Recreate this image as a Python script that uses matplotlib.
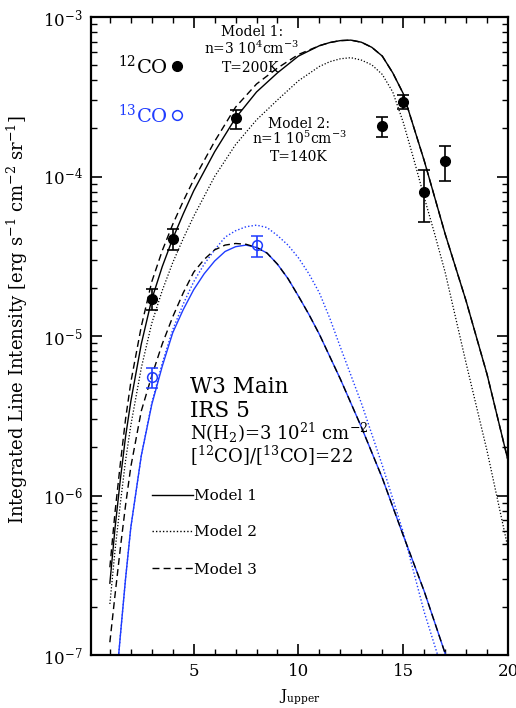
import matplotlib
matplotlib.use('Agg')
import matplotlib.pyplot as plt
import numpy as np
from matplotlib.ticker import MultipleLocator, LogLocator, FixedLocator, FuncFormatter, NullFormatter
from matplotlib.lines import Line2D

plt.rcParams['font.family'] = ['DejaVu Serif']
plt.rcParams['mathtext.fontset'] = 'dejavuserif'

BLUE = '#1f3cff'

# ---------------- data ----------------
# 12CO observations
J12 = [3, 4, 7, 14, 15, 16, 17]
v12 = [1.71e-5, 4.04e-5, 2.32e-4, 2.07e-4, 2.93e-4, 8.03e-5, 1.25e-4]
lo12 = [1.46e-5, 3.46e-5, 1.98e-4, 1.78e-4, 2.65e-4, 5.21e-5, 9.38e-5]
hi12 = [1.96e-5, 4.69e-5, 2.61e-4, 2.37e-4, 3.23e-4, 1.10e-4, 1.55e-4]

# 13CO observations
J13 = [3, 8]
v13 = [5.56e-6, 3.72e-5]
lo13 = [4.70e-6, 3.14e-5]
hi13 = [6.33e-6, 4.26e-5]

# model curves for 12CO (log10 of intensity)
jm12 = [1, 1.25, 1.5, 1.75, 2, 2.5, 3, 3.5, 4, 4.5, 5, 6, 7, 8, 9, 10, 11, 11.5,
        12, 12.5, 13, 13.5, 14, 14.5, 15, 15.5, 16, 16.5, 17, 18, 19, 20]
m1_12 = [-6.55, -6.20, -5.90, -5.63, -5.41, -5.05, -4.77, -4.565, -4.39, -4.235,
         -4.09, -3.845, -3.633, -3.47, -3.35, -3.245, -3.18, -3.16, -3.148, -3.145,
         -3.158, -3.19, -3.245, -3.35, -3.48, -3.69, -3.90, -4.13, -4.36, -4.78,
         -5.24, -5.78]
m2_12 = [-6.68, -6.34, -6.05, -5.78, -5.56, -5.20, -4.92, -4.715, -4.54, -4.39,
         -4.25, -4.00, -3.80, -3.645, -3.52, -3.40, -3.31, -3.28, -3.262, -3.255,
         -3.27, -3.30, -3.36, -3.47, -3.66, -3.89, -4.13, -4.36, -4.60, -5.17,
         -5.72, -6.33]
m3_12 = [-6.45, -6.10, -5.80, -5.52, -5.29, -4.94, -4.66, -4.465, -4.30, -4.155,
         -4.02, -3.78, -3.565, -3.42, -3.32, -3.235, -3.18, -3.16, -3.148, -3.145,
         -3.158, -3.19, -3.245, -3.35, -3.48, -3.69, -3.90, -4.13, -4.36, -4.78,
         -5.24, -5.78]

# model curves for 13CO (log10 of intensity)
jm13 = [1, 1.25, 1.5, 1.75, 2, 2.5, 3, 3.5, 4, 4.5, 5, 5.5, 6, 6.5, 7, 7.5, 8,
        8.5, 9, 9.5, 10, 10.5, 11, 11.5, 12, 13, 14, 15, 16, 17, 18]
m1_13 = [-7.70, -7.25, -6.88, -6.52, -6.20, -5.75, -5.43, -5.19, -4.98, -4.835,
         -4.71, -4.61, -4.53, -4.47, -4.44, -4.43, -4.445, -4.48, -4.55, -4.64,
         -4.75, -4.865, -4.99, -5.13, -5.27, -5.57, -5.89, -6.25, -6.60, -6.99,
         -7.40]
m2_13 = [-7.70, -7.25, -6.88, -6.52, -6.20, -5.75, -5.42, -5.17, -4.96, -4.80,
         -4.66, -4.55, -4.46, -4.38, -4.34, -4.315, -4.305, -4.32, -4.37, -4.43,
         -4.51, -4.61, -4.73, -4.89, -5.07, -5.42, -5.81, -6.23, -6.73, -7.15,
         -7.60]
m3_13 = [-6.92, -6.62, -6.33, -6.06, -5.82, -5.47, -5.25, -5.05, -4.88, -4.73,
         -4.60, -4.52, -4.46, -4.43, -4.42, -4.425, -4.445, -4.48, -4.55, -4.64,
         -4.75, -4.865, -4.99, -5.13, -5.27, -5.57, -5.89, -6.25, -6.60, -6.99,
         -7.40]

xticks = [5, 10, 15, 20]
xticklabels = ['5', '10', '15', '20']

# ---------------- figure ----------------
W, H = 516, 708
fig = plt.figure(figsize=(W / 100, H / 100), dpi=100)
ax = fig.add_axes([91 / W, 53 / H, 417 / W, 638 / H])


def fx(px):
    return px / W


def fy(py):
    return 1 - py / H


ax.plot(jm13, 10 ** np.array(m1_13), color=BLUE, lw=1.0)
ax.plot(jm13, 10 ** np.array(m2_13), color=BLUE, lw=1.0, ls=(0, (1, 1.5)))
ax.plot(jm13, 10 ** np.array(m3_13), color='k', lw=1.0, ls=(0, (5, 3)))

ax.plot(jm12, 10 ** np.array(m1_12), color='k', lw=1.0)
ax.plot(jm12, 10 ** np.array(m2_12), color='k', lw=0.9, ls=(0, (1, 1.5)))
ax.plot(jm12, 10 ** np.array(m3_12), color='k', lw=1.0, ls=(0, (5, 3)))

v12a = np.array(v12)
ax.errorbar(J12, v12a, yerr=[v12a - np.array(lo12), np.array(hi12) - v12a],
            fmt='o', color='k', ms=7, capsize=4, elinewidth=1.2, capthick=1.2, zorder=5)
v13a = np.array(v13)
ax.errorbar(J13, v13a, yerr=[v13a - np.array(lo13), np.array(hi13) - v13a],
            fmt='o', color=BLUE, mfc='none', mec=BLUE, mew=1.1, ms=7, capsize=4,
            elinewidth=1.2, capthick=1.2, zorder=5)

ax.set_yscale('log')
ax.set_xlim(0.1, 20)
ax.set_ylim(1e-7, 1e-3)

ax.xaxis.set_major_locator(FixedLocator(xticks))
ax.set_xticklabels(xticklabels)
ax.xaxis.set_minor_locator(MultipleLocator(1))
ax.yaxis.set_major_locator(LogLocator(base=10, numticks=10))
ax.yaxis.set_minor_locator(LogLocator(base=10, subs=np.arange(2, 10), numticks=20))
ax.yaxis.set_minor_formatter(NullFormatter())
ax.yaxis.set_major_formatter(FuncFormatter(lambda v, p: r'$10^{%d}$' % int(round(np.log10(v)))))

ax.tick_params(which='both', direction='in', top=True, right=True, labelsize=12)
ax.tick_params(which='major', length=8, width=1.2, pad=6)
ax.tick_params(which='minor', length=4.5, width=1.0)
for s in ax.spines.values():
    s.set_linewidth(1.6)

ax.set_ylabel(r'Integrated Line Intensity [erg s$^{-1}$ cm$^{-2}$ sr$^{-1}$]', fontsize=13)
ax.yaxis.set_label_coords(-0.146, 0.525)
fig.text(fx(300), fy(697), r'J$_{\rm upper}$', fontsize=11, ha='center', va='center')

# species key
fig.text(fx(118), fy(74), r'$^{12}$CO', fontsize=14, ha='left', va='baseline', color='k')
fig.text(fx(118), fy(123), r'$^{13}$CO', fontsize=14, ha='left', va='baseline', color=BLUE)
fig.add_artist(Line2D([fx(177)], [fy(66)], transform=fig.transFigure, marker='o',
                      color='k', ms=7, ls='none'))
fig.add_artist(Line2D([fx(177)], [fy(115)], transform=fig.transFigure, marker='o',
                      mfc='none', mec=BLUE, mew=1.1, ms=7, ls='none'))

# model annotations
fig.text(fx(252), fy(36), 'Model 1:', fontsize=10, ha='center', va='baseline')
fig.text(fx(251), fy(54), r'n=3 10$^4$cm$^{-3}$', fontsize=10, ha='center', va='baseline')
fig.text(fx(251), fy(72), 'T=200K', fontsize=10, ha='center', va='baseline')
fig.text(fx(299), fy(128), 'Model 2:', fontsize=10, ha='center', va='baseline')
fig.text(fx(299), fy(144), r'n=1 10$^5$cm$^{-3}$', fontsize=10, ha='center', va='baseline')
fig.text(fx(299), fy(161), 'T=140K', fontsize=10, ha='center', va='baseline')

# source info
fig.text(fx(190), fy(393), 'W3 Main', fontsize=15.5, ha='left', va='baseline')
fig.text(fx(190), fy(417), 'IRS 5', fontsize=15.5, ha='left', va='baseline')
fig.text(fx(190), fy(440), r'N(H$_2$)=3 10$^{21}$ cm$^{-2}$', fontsize=13, ha='left', va='baseline')
fig.text(fx(190), fy(463), r'[$^{12}$CO]/[$^{13}$CO]=22', fontsize=13, ha='left', va='baseline')

# line-style key
for ypx, ls, lab in [(495, '-', 'Model 1'), (531, (0, (1, 1.5)), 'Model 2'),
                     (568, (0, (5, 3)), 'Model 3')]:
    fig.add_artist(Line2D([fx(152), fx(193)], [fy(ypx), fy(ypx)], transform=fig.transFigure,
                          color='k', lw=1.0, ls=ls))
    fig.text(fx(194), fy(ypx + 5.5), lab, fontsize=11, ha='left', va='baseline')

fig.savefig('out.png', dpi=100)
